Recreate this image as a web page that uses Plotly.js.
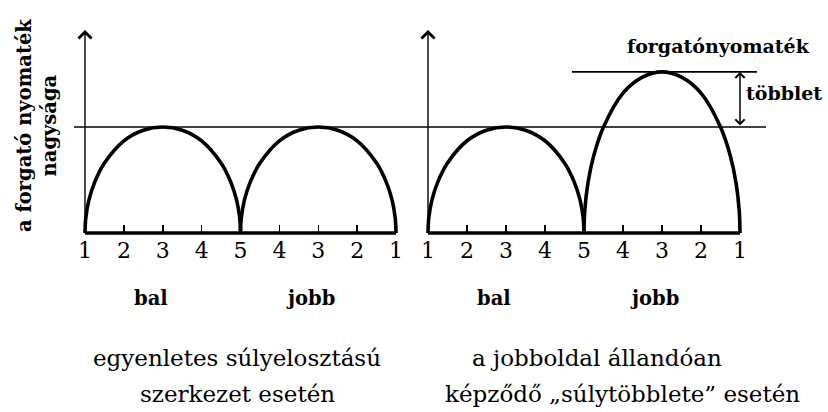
<!DOCTYPE html>
<html><head><meta charset="utf-8">
<script src="https://cdn.plot.ly/plotly-3.0.1.min.js"></script>
<style>html,body{margin:0;padding:0;background:#fff}</style>
</head><body><div id="chart" style="width:828px;height:412px"></div>
<script>
// ---- data ----
const tickPositions = [0, 1, 2, 3, 4, 5, 6, 7, 8];
const tickLabels = ['1', '2', '3', '4', '5', '4', '3', '2', '1'];
const sideLabels = ['bal', 'jobb'];
const sideLabelPos = [1.7, 5.8];
const archBalX  = [0, 0.02, 0.1, 0.25, 0.5, 1, 1.5, 2, 2.5, 3, 3.5, 3.75, 3.9, 3.98, 4];
const archJobbX = [4, 4.02, 4.1, 4.25, 4.5, 5, 5.5, 6, 6.5, 7, 7.5, 7.75, 7.9, 7.98, 8];
const evenBal   = [0, 0.14, 0.31, 0.48, 0.66, 0.87, 0.97, 1, 0.97, 0.87, 0.66, 0.48, 0.31, 0.14, 0];
const evenJobb  = [0, 0.14, 0.31, 0.48, 0.66, 0.87, 0.97, 1, 0.97, 0.87, 0.66, 0.48, 0.31, 0.14, 0];
const heavyBal  = [0, 0.14, 0.31, 0.48, 0.66, 0.87, 0.97, 1, 0.97, 0.87, 0.66, 0.48, 0.31, 0.14, 0];
const heavyJobb = [0, 0.21, 0.47, 0.73, 1.0, 1.32, 1.47, 1.52, 1.47, 1.32, 1.0, 0.73, 0.47, 0.21, 0];
const baseLevel = 1;      // common torque level
const peakRight = 1.52;   // increased torque level
const axisTop = 1.915;    // arrow tip of the vertical axes
const yTitle = 'a forgató nyomaték<br>nagysága';
const captionLeft = ['egyenletes súlyelosztású', 'szerkezet esetén'];
const captionRight = ['a jobboldal állandóan', 'képződő „súlytöbblete” esetén'];
const extraLabel = 'forgatónyomaték';
const extraLabel2 = 'többlet';

// ---- layout helpers ----
const W = 828, H = 412;
const px = v => v / W, py = v => (H - v) / H;
const black = '#000';
const SERIF = 'DejaVu Serif';

function arch(x, y, xa) {
  return {x: x, y: y, xaxis: xa, yaxis: 'y', type: 'scatter', mode: 'lines',
    line: {color: black, width: 3.6, shape: 'spline', smoothing: 1}, hoverinfo: 'skip', showlegend: false};
}
function baseline(xa) {
  return {x: [tickPositions[0], tickPositions[tickPositions.length - 1]], y: [0, 0], xaxis: xa, yaxis: 'y',
    type: 'scatter', mode: 'lines', line: {color: black, width: 3.4}, hoverinfo: 'skip', showlegend: false};
}

const data = [
  baseline('x'), baseline('x2'),
  arch(archBalX, evenBal, 'x'), arch(archJobbX, evenJobb, 'x'),
  arch(archBalX, heavyBal, 'x2'), arch(archJobbX, heavyJobb, 'x2')
];

function xAxis(dom) {
  return {domain: dom, range: [-0.4, 8.4], anchor: 'free', position: py(233),
    showgrid: false, zeroline: false, showline: false,
    tickmode: 'array', tickvals: tickPositions, ticktext: tickLabels,
    ticks: 'inside', ticklen: 8, tickwidth: 1.5, tickcolor: black,
    ticklabelstandoff: 2,
    tickfont: {family: SERIF, size: 22, color: black}, fixedrange: true};
}
// left: u -> 85 + 38.875u ; right: u -> 428 + 39u
const leftDom = [px(85 - 0.4 * 38.875), px(85 + 8.4 * 38.875)];
const rightDom = [px(428 - 0.4 * 39), px(428 + 8.4 * 39)];

const annotations = [];
function axisArrow(xa) {
  annotations.push({x: 0, y: axisTop, ax: 0, ay: 0, xref: xa, yref: 'y', axref: xa, ayref: 'y',
    text: '', showarrow: true, arrowhead: 4, arrowsize: 1.8, arrowwidth: 1.4, arrowcolor: black, standoff: 0});
}
axisArrow('x'); axisArrow('x2');
// többlet double arrow
annotations.push({x: tickPositions[8], y: peakRight, ax: tickPositions[8], ay: baseLevel,
  xref: 'x2', yref: 'y', axref: 'x2', ayref: 'y', text: '', showarrow: true,
  arrowside: 'end+start', arrowhead: 4, startarrowhead: 4, arrowsize: 1.2, startarrowsize: 1.2,
  arrowwidth: 1.5, arrowcolor: black, standoff: 0, startstandoff: 0});

const boldFont = s => ({family: SERIF, size: s, color: black, weight: 'bold'});
annotations.push({xref: 'paper', yref: 'paper', x: px(37), y: py(126), text: yTitle, textangle: -90,
  showarrow: false, xanchor: 'center', yanchor: 'middle', font: boldFont(19.5)});
annotations.push({xref: 'paper', yref: 'paper', x: px(718), y: py(46), text: extraLabel,
  showarrow: false, xanchor: 'center', yanchor: 'middle', font: boldFont(19)});
annotations.push({xref: 'paper', yref: 'paper', x: px(744), y: py(93), text: extraLabel2,
  showarrow: false, xanchor: 'left', yanchor: 'middle', font: boldFont(19)});
['x', 'x2'].forEach(xa => sideLabels.forEach((s, i) => annotations.push({
  xref: xa, yref: 'paper', x: sideLabelPos[i], y: py(298), text: s, showarrow: false,
  xanchor: 'center', yanchor: 'middle', font: boldFont(19.5)})));
const capFont = {family: SERIF, size: 23, color: black};
[[captionLeft, [237, 237]], [captionRight, [597, 622]]].forEach(([lines, xs]) => {
  lines.forEach((t, i) => annotations.push({xref: 'paper', yref: 'paper', x: px(xs[i]), y: py(i === 0 ? 358 : 394),
    text: t, showarrow: false, xanchor: 'center', yanchor: 'middle', font: capFont}));
});

const shapes = [
  {type: 'line', xref: 'paper', yref: 'y', x0: px(74), x1: px(766), y0: baseLevel, y1: baseLevel,
    line: {color: black, width: 1.6}},
  {type: 'line', xref: 'paper', yref: 'y', x0: px(572), x1: px(757), y0: peakRight, y1: peakRight,
    line: {color: black, width: 1.6}}
];

const layout = {
  width: W, height: H, margin: {l: 0, r: 0, t: 0, b: 0},
  paper_bgcolor: '#fff', plot_bgcolor: 'rgba(0,0,0,0)', showlegend: false,
  font: {family: SERIF, color: black},
  xaxis: xAxis(leftDom),
  xaxis2: xAxis(rightDom),
  yaxis: {domain: [py(233 + 0.12 * 106), py(233 - 2.0 * 106)], range: [-0.12, 2.0], anchor: 'x',
    visible: false, showgrid: false, zeroline: false, fixedrange: true},
  annotations: annotations, shapes: shapes
};

Plotly.newPlot('chart', data, layout, {staticPlot: true, displayModeBar: false});
</script></body></html>
